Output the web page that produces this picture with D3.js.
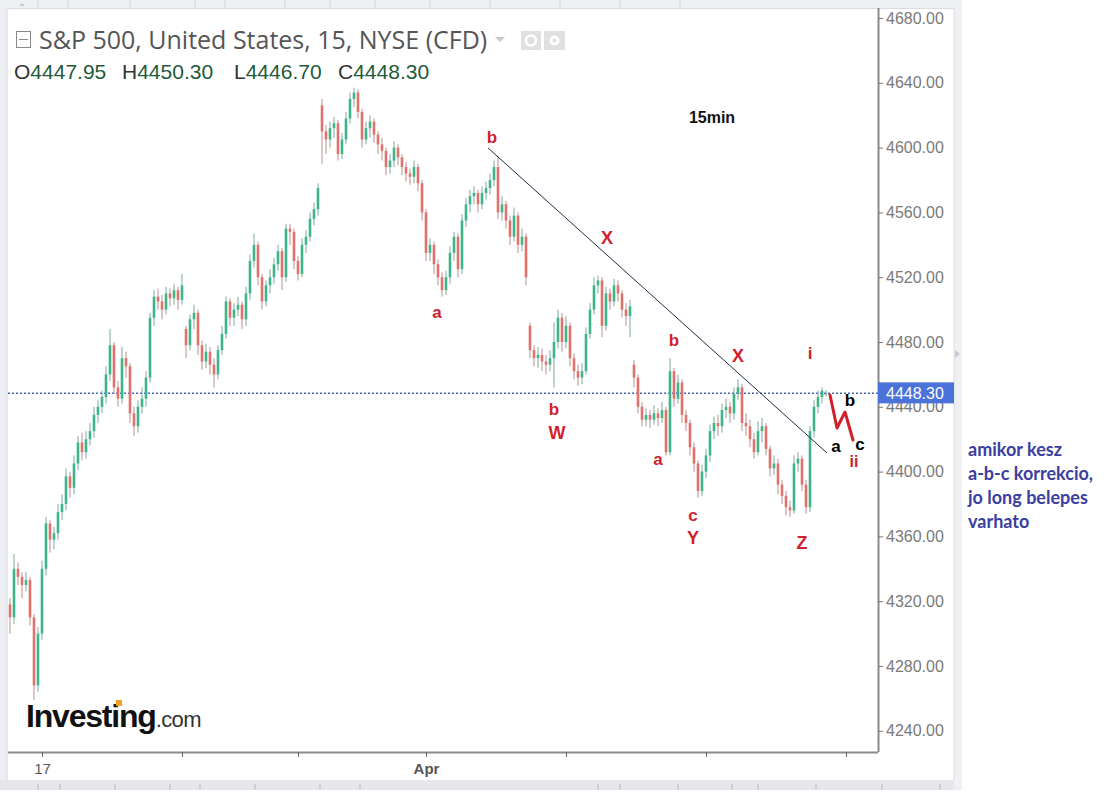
<!DOCTYPE html>
<html>
<head>
<meta charset="utf-8">
<script src="https://cdn.jsdelivr.net/npm/d3@7"></script>
<style>
  html, body { margin: 0; padding: 0; background: #fff; }
  svg { display: block; }
</style>
</head>
<body>
<svg id="chart" width="1114" height="805"></svg>
<script>
// ---------------- DATA ----------------
const opens = [
  4318,4310,4340,4335,4330,4333,4310,4268,4300,4340,
  4368,4358,4362,4375,4380,4397,4390,4405,4418,4412,
  4420,4425,4435,4440,4446,4460,4478,4452,4445,4470,
  4465,4436,4428,4440,4445,4458,4495,4508,4505,4500,
  4510,4507,4512,4506,4488,4478,4494,4498,4478,4468,
  4474,4466,4460,4475,4485,4505,4495,4500,4503,4494,
  4510,4530,4540,4520,4505,4515,4520,4528,4536,4520,
  4550,4548,4530,4522,4540,4545,4556,4562,4626,4610,
  4605,4612,4615,4596,4605,4618,4630,4634,4622,4605,
  4612,4616,4608,4602,4598,4588,4592,4600,4594,4588,
  4584,4582,4588,4578,4560,4535,4540,4528,4520,4512,
  4520,4535,4545,4525,4555,4565,4570,4572,4565,4572,
  4575,4580,4588,4560,4565,4555,4545,4558,4540,4545,
  4490,4475,4470,4472,4468,4466,4470,4480,4495,4480,
  4490,4470,4462,4458,4462,4485,4500,4515,4518,4490,
  4510,4505,4515,4510,4500,4496,4466,4458,4440,4432,
  4435,4432,4436,4433,4438,4412,4462,4445,4455,4435,
  4430,4415,4405,4388,4400,4410,4425,4430,4428,4438,
  4440,4436,4448,4452,4430,4428,4420,4412,4425,4428,
  4414,4402,4405,4392,4385,4378,4376,4405,4408,4392,
  4378,4425,4440,4446,4447.95
];
const highs = [
  4322,4349,4344,4338,4338,4335,4312,4304,4345,4372,
  4370,4366,4380,4386,4402,4400,4410,4422,4424,4425,
  4430,4440,4444,4450,4465,4488,4480,4456,4477,4474,
  4467,4440,4444,4452,4462,4498,4512,4513,4509,4514,
  4513,4516,4514,4522,4490,4497,4503,4500,4481,4479,
  4477,4470,4478,4490,4508,4507,4504,4508,4505,4514,
  4534,4547,4542,4522,4518,4525,4532,4540,4538,4553,
  4553,4550,4533,4544,4549,4560,4566,4578,4630,4614,
  4616,4619,4617,4609,4622,4634,4637,4636,4624,4616,
  4620,4618,4610,4606,4600,4596,4604,4602,4596,4591,
  4587,4592,4590,4580,4562,4544,4542,4531,4523,4524,
  4539,4548,4547,4559,4569,4574,4576,4574,4576,4579,
  4584,4592,4595,4570,4567,4558,4563,4560,4550,4547,
  4492,4478,4477,4476,4472,4475,4492,4500,4498,4496,
  4492,4473,4466,4467,4489,4504,4520,4521,4520,4514,
  4513,4519,4518,4512,4504,4506,4469,4460,4443,4439,
  4438,4441,4439,4443,4440,4470,4464,4460,4457,4438,
  4432,4418,4407,4404,4414,4429,4434,4435,4442,4445,
  4443,4452,4457,4454,4436,4432,4424,4431,4433,4430,
  4416,4410,4408,4395,4388,4382,4410,4412,4410,4395,
  4428,4444,4450,4452,4450.3
];
const lows = [
  4300,4306,4330,4322,4326,4305,4259,4264,4296,4336,
  4350,4352,4358,4370,4376,4384,4386,4401,4407,4408,
  4416,4421,4430,4436,4442,4456,4448,4440,4442,4458,
  4430,4422,4424,4436,4440,4455,4490,4500,4494,4497,
  4502,4503,4500,4503,4470,4475,4488,4472,4463,4464,
  4460,4452,4457,4472,4482,4490,4490,4496,4488,4490,
  4506,4526,4515,4500,4502,4510,4516,4524,4512,4517,
  4540,4525,4518,4520,4535,4542,4552,4558,4590,4596,
  4600,4606,4592,4593,4602,4615,4625,4618,4600,4602,
  4606,4603,4596,4592,4583,4584,4588,4589,4583,4579,
  4577,4578,4573,4555,4530,4530,4522,4515,4508,4509,
  4516,4530,4520,4522,4551,4560,4565,4560,4562,4568,
  4571,4576,4556,4555,4550,4540,4542,4535,4536,4515,
  4470,4465,4464,4462,4460,4462,4452,4476,4474,4476,
  4465,4457,4453,4454,4460,4482,4497,4510,4483,4487,
  4500,4502,4505,4495,4490,4483,4452,4436,4428,4428,
  4427,4429,4428,4430,4410,4410,4440,4442,4430,4425,
  4410,4400,4384,4385,4396,4406,4420,4422,4424,4433,
  4430,4432,4444,4425,4422,4415,4408,4410,4418,4410,
  4397,4398,4386,4380,4373,4372,4374,4400,4388,4374,
  4375,4421,4436,4442,4446.7
];
const closes = [
  4310,4340,4335,4330,4333,4310,4268,4300,4340,4368,
  4358,4362,4375,4380,4397,4390,4405,4418,4412,4420,
  4425,4435,4440,4446,4460,4478,4452,4445,4470,4465,
  4436,4428,4440,4445,4458,4495,4508,4505,4500,4510,
  4507,4512,4506,4515,4478,4494,4498,4478,4468,4474,
  4466,4460,4475,4485,4505,4495,4500,4503,4494,4510,
  4530,4540,4520,4505,4515,4520,4528,4536,4520,4550,
  4548,4530,4522,4540,4545,4556,4562,4575,4610,4605,
  4612,4615,4596,4605,4618,4630,4634,4622,4605,4612,
  4616,4608,4602,4598,4588,4592,4600,4594,4588,4584,
  4582,4588,4578,4560,4535,4540,4528,4520,4512,4520,
  4535,4545,4525,4555,4565,4570,4572,4565,4572,4575,
  4580,4588,4560,4565,4555,4545,4558,4540,4545,4520,
  4475,4470,4472,4468,4466,4470,4480,4495,4480,4490,
  4470,4462,4458,4462,4485,4500,4515,4518,4490,4510,
  4505,4515,4510,4500,4496,4502,4458,4440,4432,4435,
  4432,4436,4433,4438,4412,4462,4445,4455,4435,4430,
  4415,4405,4388,4400,4410,4425,4430,4428,4438,4440,
  4436,4448,4452,4430,4428,4420,4412,4425,4428,4414,
  4402,4405,4392,4385,4378,4376,4405,4408,4392,4378,
  4425,4440,4446,4450,4448.3
];
const lastPrice = 4448.30;
const priceTicks = [4240,4280,4320,4360,4400,4440,4480,4520,4560,4600,4640,4680];
const timeTickIdx = [8, 43, 72, 104, 139, 174, 209];
const timeTickLabels = ["17", "", "", "Apr", "", "", ""];

// Trend line endpoints (candle index, price)
const trendIdx = [119.5, 204.25];
const trendPrice = [4599.8, 4411.5];

// Projected a-b-c path (hand drawn)
const projIdx = [205, 206.75, 208.75, 210.75];
const projPrice = [4447.3, 4426.9, 4436.8, 4419.5];

// Wave labels
const waveText  = ["b","a","X","b","X","i","b","W","a","c","Y","Z","ii","b","a","c","15min"];
const waveIdx   = [120.5,106.75,149.25,166,182,200,136,136.75,162,170.75,170.75,198,211,210,206.5,212.5,175.5];
const wavePrice = [4606.5,4498.5,4544.2,4481.2,4471.4,4472.6,4438.6,4423.8,4407.2,4372.6,4359,4356,4406.3,4443.6,4415.8,4416.6,4618.3];
const waveKind  = ["r","r","r","r","r","r","r","r","r","r","r","r","r","k","k","k","t"];

const noteLines = ["amikor kesz", "a-b-c korrekcio,", "jo long belepes", "varhato"];

// ---------------- DRAW ----------------
const svg = d3.select("#chart");
const W = 1114, H = 805;
const L = 8, R = 878, T = 8, B = 752;

const x = d3.scaleLinear().domain([-0.5, 217]).range([L, R]);
const y = d3.scaleLinear().domain([4240, 4680]).range([730.8, 18]);

// frame
svg.append("rect").attr("x",0).attr("y",0).attr("width",W).attr("height",H).attr("fill","#fff");
svg.append("rect").attr("x",0).attr("y",0).attr("width",7).attr("height",790).attr("fill","#eceef2");
svg.append("rect").attr("x",0).attr("y",0).attr("width",962).attr("height",8).attr("fill","#eef0f3");
svg.append("rect").attr("x",0).attr("y",780).attr("width",962).attr("height",10).attr("fill","#e6e7eb");
svg.append("rect").attr("x",954).attr("y",0).attr("width",8).attr("height",790).attr("fill","#eef0f4");
svg.append("line").attr("x1",954).attr("x2",954).attr("y1",8).attr("y2",780).attr("stroke","#dcdde2");
svg.append("line").attr("x1",7).attr("x2",7).attr("y1",8).attr("y2",780).attr("stroke","#d6d8de");
svg.append("line").attr("x1",7).attr("x2",954).attr("y1",8.5).attr("y2",8.5).attr("stroke","#d9dbe0");
[68, 130, 195, 225, 285, 330, 375, 430, 490, 560, 620, 680].forEach(v => {
  svg.append("line").attr("x1",v).attr("x2",v).attr("y1",0).attr("y2",8).attr("stroke","#d0d2d8");
});
[38, 60, 115, 170, 200, 255, 320, 360].forEach(v => {
  svg.append("line").attr("x1",v).attr("x2",v).attr("y1",784).attr("y2",790).attr("stroke","#b9bbc2");
});
[38, 60, 118, 172, 198, 256, 322, 380].forEach(v => {
  svg.append("line").attr("x1",v+560).attr("x2",v+560).attr("y1",784).attr("y2",790).attr("stroke","#b9bbc2");
});
svg.append("path").attr("d","M955,350 l5,4 l-5,4 z").attr("fill","#c8c9cf");
svg.append("path").attr("d","M19,6 l3,-3 l3,3 z").attr("fill","#c8c9cf");
svg.append("line").attr("x1",38).attr("x2",38).attr("y1",0).attr("y2",8).attr("stroke","#d0d2d8");

// dotted last price line
svg.append("line")
  .attr("x1", L).attr("x2", R)
  .attr("y1", y(lastPrice)).attr("y2", y(lastPrice))
  .attr("stroke", "#4a66b4").attr("stroke-width", 1.5)
  .attr("stroke-dasharray", "2,2");

// candles
const n = closes.length;
const candles = d3.range(n).map(i => ({i, o: opens[i], h: highs[i], l: lows[i], c: closes[i]}));
const upCol = "#3db58a", dnCol = "#e0716b";
const g = svg.append("g");
g.selectAll("line.wick").data(candles).join("line")
  .attr("class","wick")
  .attr("x1", d => x(d.i)).attr("x2", d => x(d.i))
  .attr("y1", d => y(d.h)).attr("y2", d => y(d.l))
  .attr("stroke", d => d.c >= d.o ? "#7fa898" : "#b98f8c")
  .attr("stroke-width", 1);
const bw = 2.6;
g.selectAll("rect.body").data(candles).join("rect")
  .attr("class","body")
  .attr("x", d => x(d.i) - bw/2)
  .attr("width", bw)
  .attr("y", d => y(Math.max(d.o, d.c)))
  .attr("height", d => Math.max(1, Math.abs(y(d.o) - y(d.c))))
  .attr("fill", d => d.c >= d.o ? upCol : dnCol);

// trend line
svg.append("line")
  .attr("x1", x(trendIdx[0])).attr("y1", y(trendPrice[0]))
  .attr("x2", x(trendIdx[1])).attr("y2", y(trendPrice[1]))
  .attr("stroke", "#1f2a44").attr("stroke-width", 1);

// projected path
svg.append("path")
  .datum(d3.range(projIdx.length))
  .attr("d", d3.line().x(k => x(projIdx[k])).y(k => y(projPrice[k])))
  .attr("fill","none").attr("stroke","#d0202a").attr("stroke-width",3)
  .attr("stroke-linejoin","round").attr("stroke-linecap","round");

// axes
const yAxis = d3.axisRight(y).tickValues(priceTicks).tickFormat(d3.format(".2f")).tickSize(5).tickPadding(3);
const ya = svg.append("g").attr("transform", `translate(${R},0)`).call(yAxis);
ya.select(".domain").attr("d", `M0.5,${T}V${B}`).attr("stroke","#8a8a8a").attr("stroke-width",2);
ya.selectAll(".tick line").attr("stroke","#777");
ya.selectAll(".tick text").attr("fill","#7a7a7a").attr("font-size","16px")
  .attr("font-family","'Liberation Sans', Arial, sans-serif");

const xAxis = d3.axisBottom(x).tickValues(timeTickIdx).tickFormat((d,k) => timeTickLabels[k]).tickSize(5).tickPadding(6);
const xa = svg.append("g").attr("transform", `translate(0,${B})`).call(xAxis);
xa.select(".domain").attr("d", `M${L},0.5H${R}`).attr("stroke","#8a8a8a").attr("stroke-width",2);
xa.selectAll(".tick line").attr("stroke","#666");
xa.selectAll(".tick text").attr("fill","#555").attr("font-size","15px")
  .attr("font-family","'Liberation Sans', Arial, sans-serif")
  .attr("font-weight", (d,k) => timeTickLabels[k] === "Apr" ? "bold" : "normal");

// price tag
const py = y(lastPrice);
svg.append("rect").attr("x", R).attr("y", py - 11).attr("width", 76).attr("height", 21).attr("fill", "#4a72d9");
svg.append("text").attr("x", R + 8).attr("y", py + 6).text(d3.format(".2f")(lastPrice))
  .attr("fill","#fff").attr("font-size","16px").attr("font-family","'Liberation Sans', Arial, sans-serif");

// header
svg.append("rect").attr("x",16.5).attr("y",31.5).attr("width",14).attr("height",16).attr("fill","none").attr("stroke","#888").attr("stroke-width",1);
svg.append("line").attr("x1",19).attr("x2",28).attr("y1",39.5).attr("y2",39.5).attr("stroke","#888");
svg.append("text").attr("x",39).attr("y",49).text("S&P 500, United States, 15, NYSE (CFD)")
  .attr("fill","#555").attr("font-size","25px").attr("font-family","'Open Sans', 'Noto Sans', sans-serif");
svg.append("path").attr("d","M495,37 l10,0 l-5,5 z").attr("fill","#c8c8c8");
svg.append("rect").attr("x",521).attr("y",31).attr("width",20).attr("height",19).attr("fill","#e0e0e0");
svg.append("circle").attr("cx",531).attr("cy",40.5).attr("r",5).attr("fill","none").attr("stroke","#fff").attr("stroke-width",2.5);
svg.append("rect").attr("x",544).attr("y",31).attr("width",21).attr("height",19).attr("fill","#e0e0e0");
svg.append("circle").attr("cx",554.5).attr("cy",40.5).attr("r",5).attr("fill","#fff");
svg.append("circle").attr("cx",554.5).attr("cy",40.5).attr("r",2).attr("fill","#e0e0e0");

const ohlcLabels = ["O","H","L","C"];
const ohlcVals = [opens[n-1], highs[n-1], lows[n-1], closes[n-1]];
const ohlcLabX = [14, 122, 234, 338];
ohlcLabels.forEach((lab,k) => {
  const t = svg.append("text").attr("x", ohlcLabX[k]).attr("y", 79)
    .attr("font-size","21px").attr("font-family","'Liberation Sans', Arial, sans-serif");
  t.append("tspan").text(lab).attr("fill","#333");
  t.append("tspan").text(d3.format(".2f")(ohlcVals[k])).attr("fill","#1e5a3a");
});

// logo
const logo = svg.append("text").attr("x",26).attr("y",727).attr("font-family","'Liberation Sans', Arial, sans-serif");
logo.append("tspan").text("Investing").attr("font-size","32px").attr("font-weight","bold").attr("fill","#111").attr("letter-spacing","-1.2");
logo.append("tspan").text(".com").attr("font-size","22px").attr("fill","#333").attr("letter-spacing","-0.6");
svg.append("rect").attr("x",116).attr("y",700).attr("width",6).attr("height",6).attr("fill","#f0a020");

// wave labels
const colors = {r: "#d0222a", k: "#000", t: "#111"};
waveText.forEach((t, k) => {
  svg.append("text")
    .attr("x", x(waveIdx[k])).attr("y", y(wavePrice[k]))
    .attr("text-anchor","middle").attr("dominant-baseline","central")
    .attr("fill", colors[waveKind[k]])
    .attr("font-weight","bold")
    .attr("font-size", waveKind[k] === "t" ? "16px" : (t === "W" || t === "X" || t === "Y" || t === "Z" ? "18px" : (t === "ii" ? "16px" : "17px")))
    .attr("font-family","'Liberation Sans', Arial, sans-serif")
    .text(t);
});

// note
noteLines.forEach((t, k) => {
  svg.append("text").attr("x", 968).attr("y", 456 + k * 24).text(t)
    .attr("fill","#3a3ea0").attr("font-weight","bold").attr("font-size","18px")
    .attr("font-family","Lato, 'Open Sans', sans-serif");
});
</script>
</body>
</html>
